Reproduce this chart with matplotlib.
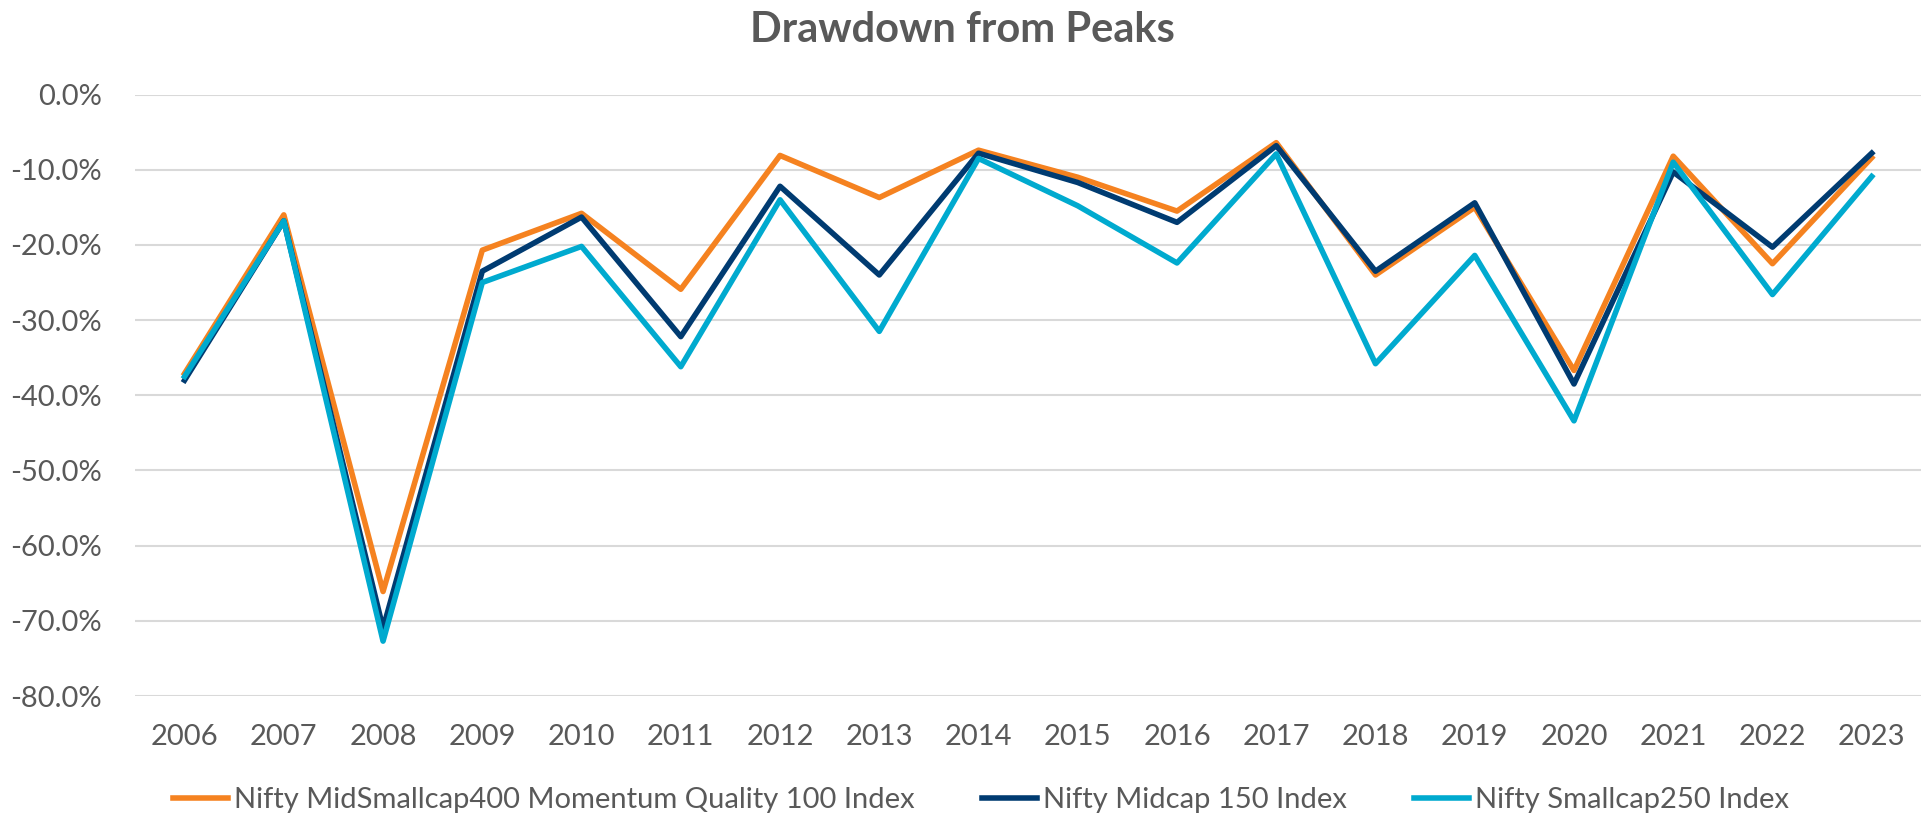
from matplotlib import pyplot as plt
import numpy as np

years = [str(y) for y in range(2006, 2024)]

momentum_quality = [-37.1, -16.0, -66.1, -20.7, -15.8, -25.9, -8.1, -13.7, -7.4, -11.0,
                    -15.5, -6.4, -24.0, -15.0, -36.7, -8.2, -22.5, -8.4]
midcap150 = [-38.0, -16.8, -71.0, -23.5, -16.3, -32.2, -12.2, -24.0, -7.8, -11.7,
             -17.0, -6.8, -23.5, -14.4, -38.5, -10.3, -20.3, -7.8]
smallcap250 = [-37.5, -16.8, -72.7, -25.0, -20.2, -36.2, -14.0, -31.5, -8.5, -14.8,
               -22.4, -7.9, -35.8, -21.4, -43.4, -9.0, -26.6, -10.9]

labels = ['Nifty MidSmallcap400 Momentum Quality 100 Index',
          'Nifty Midcap 150 Index',
          'Nifty Smallcap250 Index']
colors = ['#F58220', '#003B71', '#00AACF']

plt.rcParams['font.family'] = ['Lato', 'DejaVu Sans']
text_col = '#595959'

fig = plt.figure(figsize=(19.25, 8.15), dpi=100)
ax = fig.add_axes([0.0701, 0.146, 0.928, 0.738])

x = np.arange(len(years))
for vals, lab, col in zip([momentum_quality, midcap150, smallcap250], labels, colors):
    ax.plot(x, vals, color=col, lw=4.0, label=lab, solid_joinstyle='round')

ax.set_xlim(-0.5, len(years) - 0.5)
ax.set_ylim(-80, 0)
ax.set_yticks(np.arange(-80, 1, 10))
ax.set_yticklabels([f'{v:.1f}%' for v in np.arange(-80, 1, 10)])
ax.set_xticks(x)
ax.set_xticklabels(years)
ax.tick_params(length=0, labelsize=21, labelcolor=text_col)
ax.tick_params(axis='x', pad=20)
ax.tick_params(axis='y', pad=24)
ax.grid(axis='y', color='#D9D9D9', lw=1.5)
ax.set_axisbelow(True)
for s in ax.spines.values():
    s.set_visible(False)

fig.text(0.5, 1 - 30 / 815, 'Drawdown from Peaks', fontsize=30, fontweight='bold',
         color=text_col, ha='center', va='center')
fig.legend(loc='center', ncol=3, frameon=False, fontsize=21, labelcolor=text_col,
           bbox_to_anchor=(0.5096, 1 - 800 / 815), handlelength=1.9, handletextpad=0.2,
           columnspacing=2.3)

fig.savefig('out.png', dpi=100)
